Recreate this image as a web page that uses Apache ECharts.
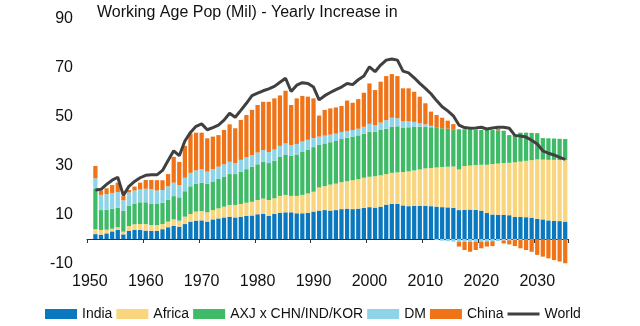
<!DOCTYPE html>
<html><head><meta charset="utf-8">
<script src="https://cdn.jsdelivr.net/npm/echarts@6/dist/echarts.min.js"></script>
<style>html,body{margin:0;padding:0;background:#fff}#c{width:640px;height:326px}</style>
</head><body><div id="c"></div>
<script>
const years = ['1950','1951','1952','1953','1954','1955','1956','1957','1958','1959',
'1960','1961','1962','1963','1964','1965','1966','1967','1968','1969',
'1970','1971','1972','1973','1974','1975','1976','1977','1978','1979',
'1980','1981','1982','1983','1984','1985','1986','1987','1988','1989',
'1990','1991','1992','1993','1994','1995','1996','1997','1998','1999',
'2000','2001','2002','2003','2004','2005','2006','2007','2008','2009',
'2010','2011','2012','2013','2014','2015','2016','2017','2018','2019',
'2020','2021','2022','2023','2024','2025','2026','2027','2028','2029',
'2030','2031','2032','2033','2034','2035'];

const india = [null,
2.0,1.8,2.3,3.1,3.7,1.9,3.3,3.7,3.7,
3.4,3.3,3.3,4.0,4.8,5.3,5.0,6.1,7.1,7.5,
7.6,7.1,8.0,8.4,8.8,9.1,8.8,9.1,9.4,9.6,
10.1,10.2,9.4,10.2,10.7,10.9,10.9,10.5,10.5,10.7,
11.2,11.6,11.8,11.6,11.8,12.2,12.4,12.2,12.4,12.7,
13.0,12.8,13.2,14.0,14.3,14.3,13.7,13.4,13.5,13.5,
13.5,13.4,13.2,13.0,12.9,12.7,11.8,11.9,12.0,11.9,
11.6,10.6,10.0,9.9,9.8,9.7,9.0,9.0,8.9,8.7,
8.2,8.0,7.6,7.4,7.3,7.1];

const africa = [null,
2.0,1.9,1.5,1.1,1.1,1.1,2.0,2.3,2.4,
2.7,2.4,2.4,2.1,2.3,2.7,2.5,3.0,3.1,3.7,
3.8,3.8,3.8,4.1,4.4,4.8,5.1,5.2,5.4,5.6,
5.8,6.3,6.5,6.4,6.9,7.1,6.7,7.1,7.5,7.9,
8.1,9.4,9.8,10.6,10.8,11.0,11.2,11.8,12.0,12.3,
12.4,12.8,12.8,12.5,12.7,12.9,13.6,14.2,14.5,14.9,
15.3,15.6,16.0,16.4,16.6,16.9,16.6,17.9,18.0,18.3,
18.7,19.7,20.6,20.9,21.2,21.4,22.3,22.6,23.0,23.5,
24.3,24.4,24.7,24.9,24.9,25.1];

const axj = [null,
16.4,8.1,8.2,8.2,8.0,8.5,8.2,8.5,8.9,
8.9,8.8,8.6,8.7,8.9,9.5,9.5,10.4,11.3,11.3,
11.6,11.6,11.7,12.0,12.3,12.6,12.6,13.2,13.7,14.3,
14.6,15.0,15.1,15.4,15.9,16.5,16.4,16.9,17.5,17.9,
18.2,17.5,17.4,17.3,17.4,17.6,17.7,17.8,17.9,18.0,
18.4,18.2,18.5,18.5,18.8,18.8,18.2,18.0,17.8,17.4,
17.0,16.6,16.2,15.8,15.5,15.2,16.4,15.0,14.8,14.4,
14.2,14.2,13.9,13.5,13.2,11.3,11.1,11.8,11.5,11.1,
10.7,8.8,8.8,8.7,8.7,8.6];

const dm = [null,
4.4,6.2,6.3,6.4,6.4,4.3,5.5,5.3,5.2,
5.5,5.8,5.5,5.2,5.5,5.5,5.0,5.5,5.5,5.5,
5.5,5.0,5.0,5.0,5.0,5.0,4.5,4.8,4.8,4.8,
4.8,4.8,4.5,4.5,4.5,4.5,4.3,4.3,4.3,4.0,
3.7,3.3,3.2,3.1,3.0,2.9,2.8,2.7,2.7,2.8,
3.2,2.7,3.0,3.5,3.7,3.3,2.5,2.4,2.0,1.4,
1.0,0.6,-0.4,-0.7,-0.9,-1.1,-1.2,-1.2,-1.2,-1.1,
-1.1,-1.0,-0.9,-0.8,-0.6,-0.5,-0.4,-0.4,-0.3,-0.3,
-0.2,-0.2,-0.2,-0.2,-0.2,-0.2];

const china = [null,
5.0,1.8,2.4,3.2,3.8,1.7,1.0,1.6,2.8,
3.6,3.8,4.2,4.0,5.0,10.5,9.5,13.0,16.0,15.4,
14.9,13.6,13.3,12.9,14.0,15.3,14.2,16.3,17.3,18.4,
19.4,19.7,20.5,20.9,20.6,21.5,16.4,18.6,18.6,17.6,
16.2,8.6,10.5,10.7,10.7,10.6,12.4,11.1,12.1,13.9,
16.5,14.3,16.7,18.0,17.8,17.2,13.5,13.5,12.3,10.9,
8.6,5.8,5.2,4.3,3.3,2.1,-1.9,-3.3,-4.0,-3.4,
-2.7,-2.1,-2.0,0.6,-1.2,-1.7,-2.5,-3.4,-4.2,-4.9,
-6.3,-7.0,-7.7,-8.4,-9.0,-9.7];

const world = [null,
20.0,20.3,22.3,24.0,25.2,17.8,21.5,23.5,25.0,
26.0,26.2,26.2,28.0,32.0,36.0,34.0,40.0,43.5,46.0,
47.0,44.6,45.5,46.5,48.5,51.3,49.7,52.5,55.4,58.5,
59.5,60.5,61.3,62.3,64.0,65.6,60.2,62.8,63.8,63.5,
62.0,56.8,58.5,59.8,61.0,62.0,63.5,63.0,65.0,66.5,
70.3,68.3,71.0,73.0,73.5,73.0,68.5,67.8,65.8,63.5,
61.5,59.3,56.5,54.0,52.3,50.3,46.5,45.5,45.2,45.3,
45.6,44.9,45.3,45.6,45.6,45.2,42.3,42.0,41.6,40.3,
38.8,36.0,35.0,34.3,33.3,32.5];

const yTicks = {min: -10, max: 90, step: 20};
const titleText = 'Working Age Pop (Mil) - Yearly Increase in';

const colors = {
  India: '#0a78be', Africa: '#f9d57e', AXJ: '#3fba66', DM: '#8ed4e8', China: '#f07318', World: '#404040'
};
const font = '"Liberation Sans", Arial, Helvetica, sans-serif';

const chart = echarts.init(document.getElementById('c'), null, {renderer: 'canvas'});
function bar(name, data, color) {
  return {name, type: 'bar', stack: 'total', data, barCategoryGap: '24%',
    itemStyle: {color}, emphasis: {disabled: true}, xAxisIndex: 0};
}
chart.setOption({
  animation: false,
  textStyle: {fontFamily: font},
  title: {text: titleText, left: 92, top: 0,
    textStyle: {fontSize: 16, fontWeight: 'normal', color: '#111', fontFamily: font}},
  grid: {left: 87, right: 72, top: 18.5, bottom: 62.5, containLabel: false, outerBoundsMode: 'none'},
  legend: {
    left: 40, top: 302, itemWidth: 32, itemHeight: 10, itemGap: 4,
    symbolKeepAspect: true,
    textStyle: {fontSize: 14, color: '#111', fontFamily: font},
    data: [
      {name: 'India', icon: 'rect'},
      {name: 'Africa', icon: 'rect'},
      {name: 'AXJ x CHN/IND/KOR', icon: 'rect'},
      {name: 'DM', icon: 'rect'},
      {name: 'China', icon: 'rect'},
      {name: 'World', icon: 'path://M0,0L32,0L32,3L0,3Z', itemStyle: {color: colors.World}}
    ]
  },
  xAxis: [
    {type: 'category', data: years, position: 'bottom',
      axisLine: {show: false, onZero: false}, axisTick: {show: false},
      axisLabel: {interval: 9, fontSize: 16, color: '#111', margin: 10, fontFamily: font}},
    {type: 'category', data: years, position: 'bottom',
      axisLine: {show: true, onZero: true, lineStyle: {color: '#333', width: 1}},
      axisTick: {show: true, interval: 9, length: 4, lineStyle: {color: '#333'}},
      axisLabel: {show: false}}
  ],
  yAxis: {type: 'value', min: yTicks.min, max: yTicks.max, interval: yTicks.step,
    axisLine: {show: false}, axisTick: {show: false}, splitLine: {show: false},
    axisLabel: {fontSize: 16, color: '#111', margin: 14, fontFamily: font}},
  series: [
    bar('India', india, colors.India),
    bar('Africa', africa, colors.Africa),
    bar('AXJ x CHN/IND/KOR', axj, colors.AXJ),
    bar('DM', dm, colors.DM),
    bar('China', china, colors.China),
    {name: 'World', type: 'line', data: world, symbol: 'none', showSymbol: false,
      lineStyle: {color: colors.World, width: 3}, itemStyle: {color: colors.World},
      z: 5, emphasis: {disabled: true}}
  ]
});
</script>
</body></html>
